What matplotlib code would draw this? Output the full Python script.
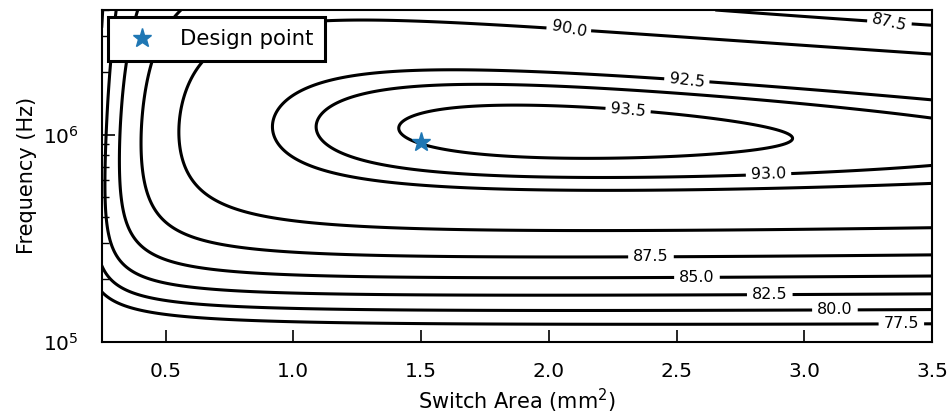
import numpy as np
import matplotlib
matplotlib.use("Agg")
import matplotlib.pyplot as plt

# contour traces
# switch area in mm^2, frequency in MHz, one pair of lists per efficiency level
levels = [77.5, 80.0, 82.5, 85.0, 87.5, 90.0, 92.5, 93.0, 93.5]

area_775 = [0.25, 0.294, 0.400, 0.712, 1.73, 3.5]
freq_775 = [0.172, 0.147, 0.132, 0.125, 0.122, 0.122]

area_800 = [0.25, 0.282, 0.361, 0.466, 0.712, 1.73, 3.5]
freq_800 = [0.257, 0.215, 0.184, 0.168, 0.154, 0.142, 0.142]

area_825 = [0.30, 0.263, 0.259, 0.271, 0.310, 0.372, 0.466, 0.712, 1.73, 3.5]
freq_825 = [4.0, 2.20, 0.951, 0.450, 0.288, 0.222, 0.199, 0.184, 0.168, 0.168]

area_850 = [0.392, 0.333, 0.318, 0.329, 0.372, 0.466, 0.595, 0.712, 1.73, 3.5]
freq_850 = [4.0, 2.15, 0.951, 0.543, 0.322, 0.257, 0.230, 0.222, 0.203, 0.203]

area_875 = [0.564, 0.446, 0.411, 0.419, 0.505, 0.595, 0.712, 1.73, 3.5,
            2.52, 2.82, 3.21, 3.5]
freq_875 = [4.0, 2.15, 0.951, 0.450, 0.348, 0.311, 0.294, 0.260, 0.257,
            3.98, 3.80, 3.48, 3.29]

area_900 = [0.564, 0.575, 0.634, 0.712, 0.935, 1.19, 1.73, 2.63, 3.5,
            0.661, 1.13, 1.45, 1.73, 1.97, 2.20, 2.63, 3.04, 3.5]
freq_900 = [1.00, 0.658, 0.526, 0.460, 0.402, 0.368, 0.356, 0.356, 0.360,
            2.25, 3.64, 3.56, 3.52, 3.33, 3.18, 2.84, 2.69, 2.40]

area_925 = [0.935, 1.01, 1.19, 1.45, 1.73, 2.42, 2.65, 3.5,
            1.01, 1.19, 1.45, 1.73, 2.15, 2.63, 3.5]
freq_925 = [1.06, 1.54, 1.92, 2.06, 2.08, 1.88, 1.80, 1.49,
            0.736, 0.622, 0.562, 0.556, 0.538, 0.562, 0.594]

area_930 = [1.10, 1.26, 1.45, 1.73, 2.63, 3.5, 1.19, 1.45, 1.73, 2.08, 2.63, 3.5]
freq_930 = [1.09, 1.61, 1.72, 1.76, 1.54, 1.22, 0.760, 0.658, 0.643, 0.622, 0.643, 0.703]

area_935 = [1.415, 1.52, 1.73, 2.25, 2.63, 2.95, 1.49, 1.73, 2.08, 2.59]
freq_935 = [1.04, 1.28, 1.37, 1.35, 1.22, 0.93, 0.92, 0.804, 0.769, 0.822]

design_area = 1.5
design_freq = 9.2e5

traces = [(77.5, area_775, freq_775), (80.0, area_800, freq_800),
          (82.5, area_825, freq_825), (85.0, area_850, freq_850),
          (87.5, area_875, freq_875), (90.0, area_900, freq_900),
          (92.5, area_925, freq_925), (93.0, area_930, freq_930),
          (93.5, area_935, freq_935)]


def basis(A, F):
    # loss terms relative to output power: conduction ~1/A, gate ~A*f,
    # switching ~f, magnetics ~1/f, ripple ~1/(A f^2)
    return np.stack([np.ones_like(A), 1 / A, 1 / A ** 2, A, A * F, F, 1 / F,
                     1 / (A * F), 1 / (A * F ** 2), F ** 2, 1 / F ** 2, F / A],
                    axis=-1)


A_pts = np.concatenate([np.asarray(a, float) for _, a, _ in traces])
F_pts = np.concatenate([np.asarray(f, float) for _, _, f in traces])
eta_pts = np.concatenate([np.full(len(a), lv) for lv, a, _ in traces])
X = basis(A_pts, F_pts)
target = 100 / eta_pts - 1          # P_loss / P_out
coef, *_ = np.linalg.lstsq(X, target, rcond=None)

# reweight so residuals act like distances on the plot, not loss differences
h = 1e-3
for _ in range(40):
    dA = (basis(A_pts + h, F_pts) - basis(A_pts - h, F_pts)) @ coef / (2 * h) / 256
    du = (basis(A_pts, F_pts * 10 ** h) - basis(A_pts, F_pts * 10 ** -h)) @ coef / (2 * h) / 206
    w = 1 / np.maximum(np.hypot(dA, du), 1e-6)
    coef, *_ = np.linalg.lstsq(X * w[:, None], target * w, rcond=None)

area = np.linspace(0.25, 3.5, 400)
freq = np.logspace(5, np.log10(4e6), 400)
AA, FF = np.meshgrid(area, freq)
eta = 100 / (1 + basis(AA, FF / 1e6) @ coef)

fig, ax = plt.subplots(figsize=(9.52, 4.16), dpi=100)
fig.subplots_adjust(left=0.1068, right=0.979, bottom=0.179, top=0.976)

cs = ax.contour(AA, FF, eta, levels=levels, colors="k", linewidths=2.2)
label_pos = [(2.08, 3.25e6), (3.33, 3.44e6), (2.54, 1.82e6), (2.31, 1.30e6),
             (2.86, 6.58e5), (2.40, 2.6e5), (2.58, 2.03e5), (2.865, 1.68e5),
             (3.12, 1.42e5), (3.38, 1.216e5)]
ax.clabel(cs, fmt="%.1f", fontsize=11.5, manual=label_pos)

ax.plot(design_area, design_freq, "*", ms=14, color="tab:blue",
        linestyle="none", label="Design point")

ax.set_yscale("log")
ax.set_xlim(0.25, 3.5)
ax.set_ylim(1e5, 4e6)
ax.set_xlabel("Switch Area (mm$^2$)", fontsize=15)
ax.set_ylabel("Frequency (Hz)", fontsize=15)
ax.tick_params(which="both", direction="in", labelsize=14.5)
ax.tick_params(axis="x", which="both", pad=15)
ax.tick_params(axis="y", which="both", pad=16.4)
ax.tick_params(which="major", length=9, width=1.2)
ax.tick_params(which="minor", length=5, width=1)
for s in ax.spines.values():
    s.set_linewidth(1.5)

leg = ax.legend(loc="upper left", fontsize=15.2, fancybox=False, framealpha=1,
                edgecolor="k", borderaxespad=0.32, borderpad=0.58)
leg.get_frame().set_linewidth(2.2)

fig.savefig("out.png", dpi=100)
